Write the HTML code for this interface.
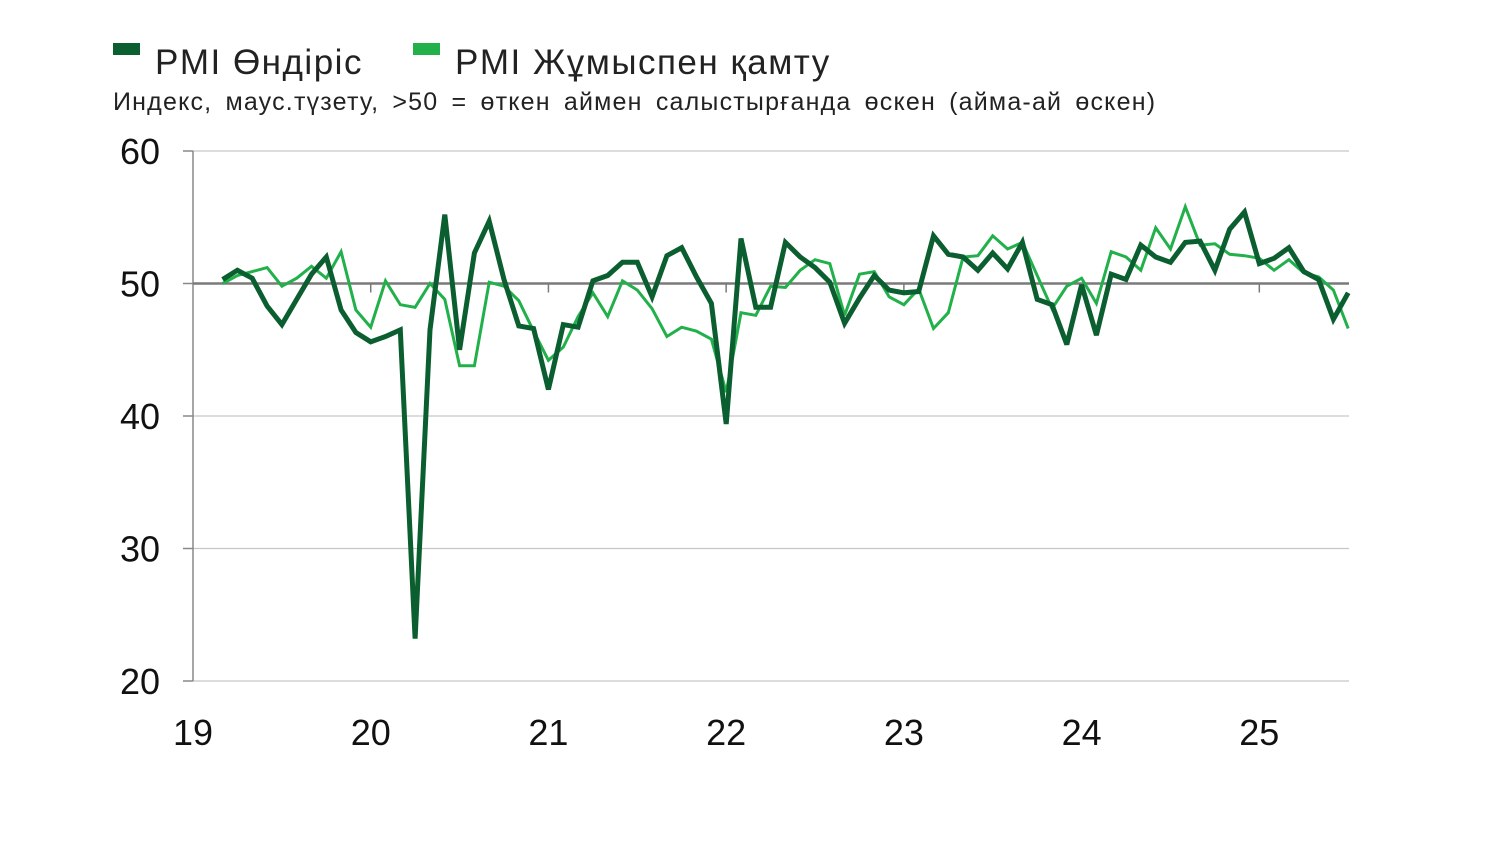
<!DOCTYPE html>
<html><head><meta charset="utf-8"><style>
body{margin:0;background:#fff;font-family:"Liberation Sans","DejaVu Sans",sans-serif}
svg{display:block}
</style></head><body>
<svg id="chart" width="1500" height="843" viewBox="0 0 1500 843">
<rect x="113" y="43" width="27" height="12" fill="#0b5e2f"/>
<text x="155" y="74" font-size="35" fill="#222" letter-spacing="1.5">PMI Өндіріс</text>
<rect x="413" y="43" width="27" height="12" fill="#22b04b"/>
<text x="455" y="74" font-size="35" fill="#222" letter-spacing="1.5">PMI Жұмыспен қамту</text>
<text x="113" y="110" font-size="25" fill="#222" letter-spacing="1.2" word-spacing="5">Индекс, маус.түзету, &gt;50 = өткен аймен салыстырғанда өскен (айма-ай өскен)</text>
<g id="axes"></g>
<g id="series"></g>
</svg>
<script>
const yTicks=[20,30,40,50,60];
const xLabels=["19","20","21","22","23","24","25"];
const production=[50.3,51.0,50.4,48.3,46.9,48.8,50.7,52.0,48.0,46.3,45.6,46.0,46.5,23.2,46.5,55.2,45.0,52.3,54.7,50.3,46.8,46.6,42.0,46.9,46.7,50.2,50.6,51.6,51.6,49.0,52.1,52.7,50.5,48.5,39.4,53.4,48.2,48.2,53.1,52.0,51.2,50.1,47.0,48.9,50.6,49.5,49.3,49.4,53.6,52.2,52.0,51.0,52.3,51.1,53.1,48.8,48.4,45.4,49.9,46.1,50.7,50.3,52.9,52.0,51.6,53.1,53.2,51.0,54.1,55.4,51.5,51.9,52.7,50.9,50.3,47.3,49.3];
const employment=[50.0,50.6,50.9,51.2,49.8,50.4,51.3,50.4,52.4,48.0,46.7,50.2,48.4,48.2,50.0,48.8,43.8,43.8,50.1,49.8,48.7,46.4,44.2,45.2,47.5,49.3,47.5,50.2,49.5,48.1,46.0,46.7,46.4,45.8,41.8,47.8,47.6,49.8,49.7,51.0,51.8,51.5,47.6,50.7,50.9,49.0,48.4,49.6,46.6,47.8,52.0,52.1,53.6,52.6,53.1,50.6,48.1,49.8,50.4,48.5,52.4,52.0,51.0,54.2,52.6,55.8,52.9,53.0,52.2,52.1,51.9,51.0,51.8,50.8,50.5,49.5,46.6];
const startMonth=2; // Mar 2019
const NS="http://www.w3.org/2000/svg";
const x0=193, monthW=14.81;
function xScale(m){return x0+m*monthW;}
function yScale(v){return 681-(v-20)*(530/40);}
function mk(tag,attrs,parent){const e=document.createElementNS(NS,tag);for(const k in attrs)e.setAttribute(k,attrs[k]);parent.appendChild(e);return e;}
const axes=document.getElementById('axes'), ser=document.getElementById('series');
yTicks.forEach(v=>{
  const y=yScale(v);
  if(v!==50){const g=mk('line',{x1:193,x2:1349,y1:y,y2:y,stroke:'#c6c6c6','stroke-width':1.3},axes);
  
  }
  const t=mk('line',{x1:183,x2:193,y1:y,y2:y,stroke:'#888','stroke-width':1.5},axes);
  
  
  const l=mk('text',{x:160,y:y+13,'font-size':36,'text-anchor':'end',fill:'#111'},axes);l.textContent=v;
  
  
});
const ya=mk('line',{x1:193,x2:193,y1:yScale(60),y2:yScale(20),stroke:'#888','stroke-width':1.5},axes);


const y50=yScale(50);
const base=mk('line',{x1:193,x2:1349,y1:y50,y2:y50,stroke:'#7a7a7a','stroke-width':2.5},axes);


xLabels.forEach((lab,i)=>{
  const x=xScale(i*12);
  if(i>0){const tk=mk('line',{x1:x,x2:x,y1:y50,y2:y50+9,stroke:'#7a7a7a','stroke-width':1.5},axes);
  
  }
  const t=mk('text',{x:x,y:745,'font-size':36,'text-anchor':'middle',fill:'#111'},axes);t.textContent=lab;
  
  
});
function draw(data,color,w,name){
  const pts=data.map((v,i)=>xScale(startMonth+i).toFixed(1)+','+yScale(v).toFixed(1)).join(' ');
  const p=mk('polyline',{points:pts,fill:'none',stroke:color,'stroke-width':w,'stroke-linejoin':'miter','stroke-miterlimit':3},ser);
  
  
}
draw(employment,'#22b04b',3,'employment-line');
draw(production,'#0b5e2f',5,'production-line');
</script>
</body></html>
